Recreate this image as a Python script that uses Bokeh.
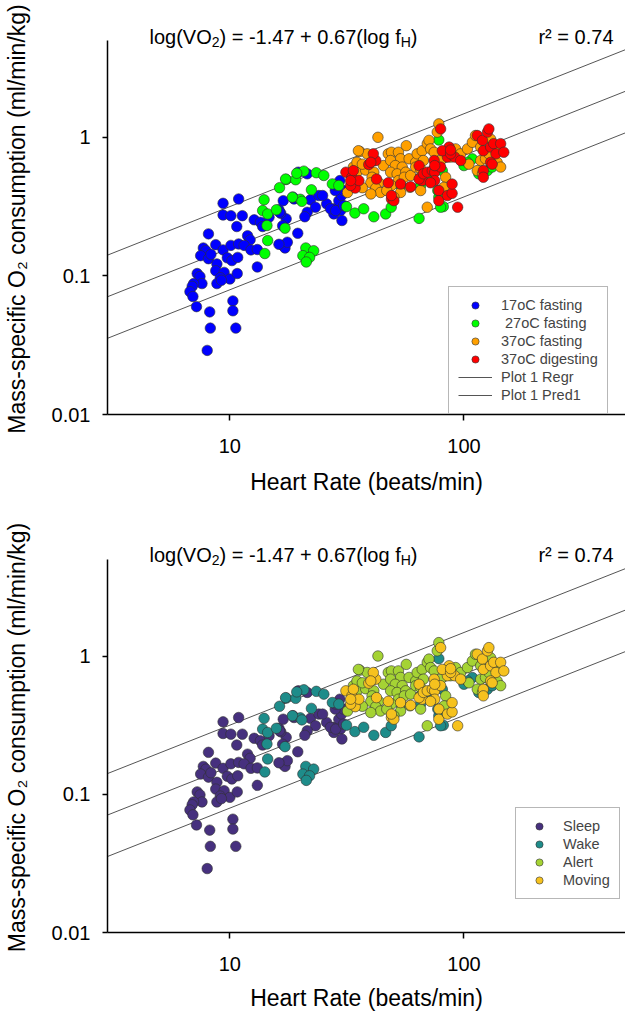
import numpy as np
from bokeh.plotting import figure
from bokeh.models import (FixedTicker, CustomJSTickFormatter, Legend, LegendItem,
                          Label, Range1d)
from bokeh.layouts import column
from bokeh.embed import file_html
from bokeh.resources import INLINE

# ---------------- data (heart rate, beats/min ; VO2, ml/min/kg) ----------------
hr_17f = [9.35, 10.9, 9.35, 10.1, 11.3, 10.7, 12.7, 13.5, 13.8, 8.1, 11.9, 12.2, 8.7, 9.35,
          10.1, 10.9, 11.5, 12.3, 13.1, 7.7, 7.9, 7.5, 8.1, 8.3, 9.75, 10.2, 10.8, 8.8, 8.7,
          9.45, 9.1, 10.0, 10.75, 13.1, 7.25, 7.45, 7.6, 7.0, 6.9, 6.75, 6.95, 8.8, 9.2, 7.2,
          8.2, 10.3, 10.3, 8.25, 10.6, 8.0, 16.2, 16.9, 17.4, 16.5, 18.8, 22.1, 24.0, 23.2,
          25.9, 21.4, 20.9, 19.5, 16.8, 17.2, 17.6, 16.2, 19.6, 21.4, 18.6, 27.8, 29.7, 30.1,
          27.8, 29.2, 30.0, 30.6, 28.2, 29.5, 16.8, 16.3, 28.3, 26.9, 28.3, 30.6, 24.9, 14.7]
vo_17f = [0.334, 0.359, 0.275, 0.272, 0.272, 0.227, 0.254, 0.244, 0.227, 0.201, 0.195, 0.182,
          0.168, 0.154, 0.166, 0.170, 0.166, 0.154, 0.155, 0.159, 0.152, 0.140, 0.133, 0.143,
          0.135, 0.129, 0.136, 0.122, 0.109, 0.106, 0.097, 0.095, 0.104, 0.116, 0.104, 0.099,
          0.088, 0.088, 0.084, 0.077, 0.071, 0.088, 0.093, 0.060, 0.055, 0.066, 0.056, 0.042,
          0.042, 0.029, 0.300, 0.349, 0.258, 0.283, 0.359, 0.354, 0.380, 0.313, 0.331, 0.288,
          0.267, 0.203, 0.166, 0.159, 0.175, 0.169, 0.56, 0.545, 0.37, 0.305, 0.296, 0.251,
          0.28, 0.349, 0.38, 0.413, 0.413, 0.487, 0.230, 0.288, 0.449, 0.305, 0.296, 0.322,
          0.38, 0.265]

hr_27f = [13.8, 14.0, 14.5, 14.4, 14.5, 14.1, 15.8, 16.3, 17.4, 19.1, 20.7, 23.4, 25.2, 22.3,
          20.0, 18.5, 17.2, 21.1, 22.8, 20.5, 21.9, 21.2, 27.4, 29.2, 31.5, 34.2, 37.3, 41.2,
          46.3, 48.9, 64.3, 53.6, 78.1, 100, 108.6, 103.5, 81.6, 78.1, 77.3, 79.5, 115.7, 126,
          132, 65.3, 80.8, 73.2, 19.3, 17.3, 20.3]
vo_27f = [0.296, 0.354, 0.28, 0.231, 0.18, 0.145, 0.30, 0.433, 0.496, 0.494, 0.57, 0.555, 0.53,
          0.418, 0.357, 0.37, 0.221, 0.159, 0.152, 0.140, 0.136, 0.126, 0.461, 0.449, 0.316,
          0.284, 0.305, 0.267, 0.28, 0.313, 0.26, 0.449, 0.957, 0.625, 0.699, 0.66, 0.316, 0.37,
          0.413, 0.313, 0.545, 0.575, 0.61, 0.449, 0.575, 0.50, 0.55, 0.50, 0.345]

hr_37f = [42.9, 35.9, 38.6, 41.2, 33.7, 34.9, 38.0, 41.2, 45.3, 40.5, 43.3, 40.0, 42.0, 44.0,
          40.0, 31.8, 36.8, 47.5, 49.0, 52.5, 56.7, 53.6, 48.6, 50.9, 54.5, 58.3, 48.6, 51.8,
          56.4, 52.5, 49.0, 46.8, 53.6, 50.2, 55.6, 59.2, 62.2, 63.1, 66.3, 69.7, 70.9, 72.0,
          67.1, 76.9, 78.1, 74.6, 79.5, 83.5, 82.2, 69.7, 87.7, 92.1, 96.8, 103.5, 108.6, 112,
          117.9, 117.9, 114, 123.6, 105, 138.6, 143.5, 127.8, 137, 130, 62.2, 65.3, 65.3, 58.8,
          65.3, 34.9, 36.8, 35.4, 120]
vo_37f = [1.0, 0.79, 0.76, 0.68, 0.61, 0.56, 0.58, 0.56, 0.625, 0.515, 0.47, 0.47, 0.43, 0.40,
          0.39, 0.40, 0.433, 0.76, 0.78, 0.78, 0.87, 0.70, 0.68, 0.625, 0.61, 0.70, 0.56, 0.545,
          0.56, 0.487, 0.449, 0.413, 0.40, 0.37, 0.515, 0.53, 0.66, 0.76, 0.80, 0.90, 0.95,
          0.825, 0.68, 1.09, 1.25, 0.78, 0.68, 0.515, 0.436, 0.313, 0.72, 0.825, 0.76, 0.825,
          0.92, 1.03, 0.85, 0.68, 0.575, 0.70, 0.64, 0.66, 0.61, 0.76, 0.85, 0.97, 0.61, 0.59,
          0.515, 0.436, 0.413, 0.66, 0.64, 0.80, 0.545]

hr_37d = [31.3, 33.7, 33.2, 34.3, 32.8, 35.6, 39.2, 42.0, 42.3, 47.5, 53.6, 49.0, 50.2, 59.2,
          64.3, 66.3, 64.3, 67.1, 69.7, 73.2, 75.0, 74.6, 79.5, 75.0, 72.0, 78.1, 78.1, 85.0,
          89.0, 89.0, 85.0, 86.4, 80.8, 91.3, 94.0, 79.5, 87.7, 96.8, 114, 120, 126, 127.8, 121,
          130, 134, 143.5, 137, 130, 121, 121, 132, 148, 41, 40, 49, 75, 87.7, 33.7, 32.8]
vo_37d = [0.56, 0.47, 0.515, 0.43, 0.449, 0.487, 0.636, 0.68, 0.50, 0.47, 0.46, 0.359, 0.349,
          0.44, 0.625, 0.487, 0.50, 0.545, 0.56, 0.575, 0.56, 0.68, 0.61, 0.487, 0.47, 0.413,
          0.349, 0.38, 0.394, 0.46, 0.72, 0.85, 0.80, 0.72, 0.313, 1.15, 0.76, 0.68, 1.03, 0.95,
          1.09, 1.15, 0.80, 0.85, 0.90, 0.90, 0.76, 0.66, 0.575, 0.515, 0.64, 0.78, 0.76, 0.66,
          0.38, 0.625, 0.81, 0.575, 0.487]

groups_hr = [hr_17f, hr_27f, hr_37f, hr_37d]
groups_vo = [vo_17f, vo_27f, vo_37f, vo_37d]

top_labels = ["17oC fasting", " 27oC fasting", "37oC fasting", "37oC digesting"]
top_colors = ["#0000FF", "#00FF00", "#FFA000", "#FF0000"]
bottom_labels = ["Sleep", "Wake", "Alert", "Moving"]
bottom_colors = ["#46307E", "#1E8C8A", "#A5D334", "#F6C21E"]

INTERCEPT = -1.47
SLOPE = 0.67
PRED_OFFSET = 0.30
R2_TEXT = "r\u00b2 = 0.74"

X_MIN, X_MAX = 3, 490
Y_MIN, Y_MAX = 0.01, 5
X_TICKS = [10, 100]
Y_TICKS = [0.01, 0.1, 1]

FONT = "Liberation Sans"
W = 625
FRAME_LEFT = 107
FRAME_W = W - FRAME_LEFT
FRAME_H = 391
DECADE_PX = 138.6
Y_TOP = 10 ** (np.log10(Y_MIN) + FRAME_H / DECADE_PX)   # frame top (room for the equation)


def px_to_x(px):
    a, b = np.log10(X_MIN), np.log10(X_MAX)
    return 10 ** (a + (px - FRAME_LEFT) / FRAME_W * (b - a))


def dy_to_y(dy):
    return 10 ** (np.log10(Y_TOP) - dy / DECADE_PX)


def add_label(p, text, px, dy, size, align="left"):
    p.add_layout(Label(x=px_to_x(px), y=dy_to_y(dy), text=text, text_font=FONT,
                       text_font_size=size, text_color="black", text_align=align,
                       text_baseline="alphabetic"))


def make_panel(height, b_top, b_bottom, labels, colors, legend_loc, show_lines_legend,
               xlabel_standoff):
    p = figure(width=W, height=height, x_axis_type="log", y_axis_type="log",
               x_range=Range1d(X_MIN, X_MAX), y_range=Range1d(Y_MIN, Y_TOP),
               output_backend="svg", toolbar_location=None, title=None,
               min_border_left=FRAME_LEFT, min_border_right=0,
               min_border_top=b_top, min_border_bottom=b_bottom)
    p.outline_line_color = None
    p.grid.visible = False
    p.background_fill_color = "white"

    xs = np.array([X_MIN, X_MAX], dtype=float)
    mid = INTERCEPT + SLOPE * np.log10(xs)
    r_reg = p.line(xs, 10 ** mid, line_color="#555555", line_width=1)
    r_up = p.line(xs, 10 ** (mid + PRED_OFFSET), line_color="#555555", line_width=1)
    p.line(xs, 10 ** (mid - PRED_OFFSET), line_color="#555555", line_width=1)

    rends = []
    for hr, vo, c in zip(groups_hr, groups_vo, colors):
        r = p.scatter(hr, vo, size=10.5, fill_color=c, line_color="#303030",
                      line_width=0.6)
        rends.append(r)

    items = [LegendItem(label=l, renderers=[r]) for l, r in zip(labels, rends)]
    if show_lines_legend:
        items += [LegendItem(label="Plot 1 Regr", renderers=[r_reg]),
                  LegendItem(label="Plot 1 Pred1", renderers=[r_up])]
        gw, stand = 34, 9
    else:
        gw, stand = 28, 10
    leg = Legend(items=items, location=legend_loc, padding=9, spacing=0, margin=0,
                 glyph_height=18, glyph_width=gw, label_height=18, label_standoff=stand,
                 label_text_font=FONT, label_text_font_size="14.5px",
                 border_line_color="#707070", border_line_width=1,
                 background_fill_color="white", background_fill_alpha=1.0)
    p.add_layout(leg)

    for ax in (p.xaxis, p.yaxis):
        ax.axis_line_width = 1.5
        ax.axis_line_color = "black"
        ax.major_tick_line_width = 1.5
        ax.major_tick_in = 0
        ax.minor_tick_out = 0
        ax.minor_tick_in = 0
        ax.major_label_text_font = FONT
        ax.major_label_text_font_size = "20px"
        ax.major_label_text_color = "black"
        ax.axis_label_text_font = FONT
        ax.axis_label_text_font_size = "23px"
        ax.axis_label_text_font_style = "normal"
        ax.axis_label_text_color = "black"
        ax.formatter = CustomJSTickFormatter(code="return tick.toString();")

    p.xaxis.ticker = FixedTicker(ticks=X_TICKS, minor_ticks=[])
    p.yaxis.ticker = FixedTicker(ticks=Y_TICKS, minor_ticks=[])
    p.yaxis.bounds = (Y_MIN, Y_MAX)
    p.xaxis.major_tick_out = 6
    p.yaxis.major_tick_out = 5
    p.xaxis.major_label_standoff = 18
    p.yaxis.major_label_standoff = 12
    p.xaxis.axis_label = "Heart Rate (beats/min)"
    p.yaxis.axis_label = "Mass-specific O\u2082 consumption (ml/min/kg)"
    p.xaxis.axis_label_standoff = xlabel_standoff
    p.yaxis.axis_label_standoff = 19

    # equation pieces, dy = pixels below the top of the frame
    base = 13
    x0 = 149
    add_label(p, "log(VO", x0, base, "20px")
    add_label(p, "2", x0 + 62.2, base + 5, "14px")
    add_label(p, ") = -1.47 + 0.67(log f", x0 + 70.0, base, "20px")
    add_label(p, "H", x0 + 251.2, base + 5, "14px")
    add_label(p, ")", x0 + 261.3, base, "20px")
    add_label(p, R2_TEXT, 613, base, "20px", align="right")
    return p


p1 = make_panel(520, 23, 106, top_labels, top_colors, (341, 0), True, 13)
p2 = make_panel(493, 22, 80, bottom_labels, bottom_colors, (408, 33), False, 11)

layout = column(p1, p2, spacing=0)
open("out.html", "w").write(file_html(layout, INLINE))
